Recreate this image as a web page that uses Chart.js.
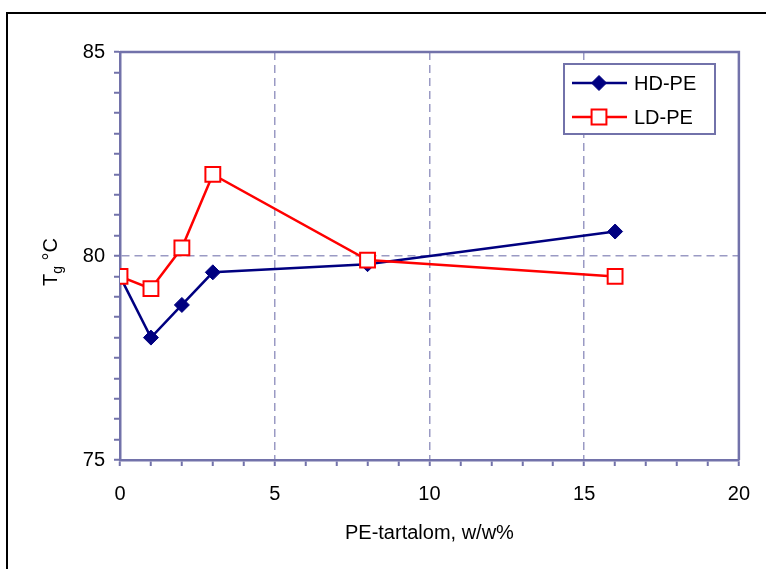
<!DOCTYPE html>
<html>
<head>
<meta charset="utf-8">
<script src="https://cdn.jsdelivr.net/npm/chart.js@4.4.0/dist/chart.umd.min.js"></script>
<style>
  html, body { margin: 0; padding: 0; background: #fff; }
  #wrap { width: 766px; height: 569px; }
</style>
</head>
<body>
<div id="wrap"><canvas id="tg-chart" width="766" height="569"></canvas></div>
<script>
// data
const peContent = [0, 1, 2, 3, 8, 16];
const hdpeTg = [79.5, 78.0, 78.8, 79.6, 79.8, 80.6];
const ldpeTg = [79.5, 79.2, 80.2, 82.0, 79.9, 79.5];
const xMajorTicks = [0, 5, 10, 15, 20];
const yMajorTicks = [75, 80, 85];
const xGridAt = [5, 10, 15];
const yGridAt = [80];

const AXIS = '#7272aa';
const GRID = '#9a9ac4';
const FONT = '"Liberation Sans", Arial, sans-serif';

// frame around the whole figure, plot box top/right edges, y title, legend
const decorations = {
  id: 'decorations',
  beforeDraw(chart) {
    const { ctx } = chart;
    ctx.save();
    ctx.strokeStyle = '#000';
    ctx.lineWidth = 2;
    ctx.strokeRect(7, 13, 800, 600);
    ctx.restore();
  },
  beforeDatasetsDraw(chart) {
    const { ctx, chartArea: a } = chart;
    ctx.save();
    ctx.strokeStyle = AXIS;
    ctx.lineWidth = 2.5;
    ctx.beginPath();
    ctx.moveTo(a.left, a.top);
    ctx.lineTo(a.right, a.top);
    ctx.lineTo(a.right, a.bottom);
    ctx.stroke();
    ctx.restore();
  },
  afterDraw(chart) {
    const { ctx } = chart;
    // y axis title: T with subscript g, then °C
    ctx.save();
    ctx.translate(50, 262);
    ctx.rotate(-Math.PI / 2);
    ctx.fillStyle = '#000';
    ctx.textBaseline = 'alphabetic';
    ctx.font = '20px ' + FONT;
    const wT = ctx.measureText('T').width;
    const wC = ctx.measureText(' °C').width;
    ctx.font = '14px ' + FONT;
    const wg = ctx.measureText('g').width;
    let x = -(wT + wg + wC) / 2;
    ctx.font = '20px ' + FONT;
    ctx.fillText('T', x, 7);
    x += wT;
    ctx.font = '14px ' + FONT;
    ctx.fillText('g', x, 12);
    x += wg;
    ctx.font = '20px ' + FONT;
    ctx.fillText(' °C', x, 7);
    ctx.restore();

    // legend box
    const box = { x: 564, y: 64, w: 151, h: 70 };
    ctx.save();
    ctx.fillStyle = '#fff';
    ctx.fillRect(box.x, box.y, box.w, box.h);
    ctx.strokeStyle = AXIS;
    ctx.lineWidth = 2;
    ctx.strokeRect(box.x, box.y, box.w, box.h);
    const rows = [83, 117];
    chart.data.datasets.forEach((ds, i) => {
      const y = rows[i];
      ctx.strokeStyle = ds.borderColor;
      ctx.lineWidth = 2.5;
      ctx.beginPath();
      ctx.moveTo(572, y);
      ctx.lineTo(627, y);
      ctx.stroke();
      ctx.fillStyle = ds.pointBackgroundColor;
      ctx.strokeStyle = ds.pointBorderColor;
      ctx.lineWidth = ds.pointBorderWidth;
      Chart.helpers.drawPoint(ctx, {
        pointStyle: ds.pointStyle,
        radius: ds.pointRadius,
        borderWidth: ds.pointBorderWidth,
        rotation: 0
      }, 599, y);
      ctx.fillStyle = '#000';
      ctx.font = '20px ' + FONT;
      ctx.textBaseline = 'middle';
      ctx.textAlign = 'left';
      ctx.fillText(ds.label, 634, y + 1);
    });
    ctx.restore();
  }
};

const gridOpts = gridAt => ({
  color: c => (c.tick && gridAt.includes(c.tick.value) ? GRID : 'rgba(0,0,0,0)'),
  lineWidth: 1.5,
  tickLength: 6,
  tickColor: AXIS,
  tickWidth: 2,
  tickBorderDash: []
});

new Chart(document.getElementById('tg-chart'), {
  type: 'line',
  data: {
    datasets: [
      {
        label: 'HD-PE',
        data: peContent.map((x, i) => ({ x, y: hdpeTg[i] })),
        borderColor: '#000080',
        borderWidth: 2.5,
        pointStyle: 'rectRot',
        pointRadius: 7.5,
        pointHoverRadius: 7.5,
        pointBackgroundColor: '#000080',
        pointBorderColor: '#000080',
        pointBorderWidth: 1,
        tension: 0,
        order: 1
      },
      {
        label: 'LD-PE',
        data: peContent.map((x, i) => ({ x, y: ldpeTg[i] })),
        borderColor: '#ff0000',
        borderWidth: 2.5,
        pointStyle: 'rect',
        pointRadius: 10.5,
        pointHoverRadius: 10.5,
        pointBackgroundColor: '#ffffff',
        pointBorderColor: '#ff0000',
        pointBorderWidth: 2,
        tension: 0,
        order: 0
      }
    ]
  },
  options: {
    responsive: false,
    animation: false,
    devicePixelRatio: 1,
    layout: { padding: { top: 52, right: 26, left: 0, bottom: 0 } },
    plugins: { legend: { display: false }, tooltip: { enabled: false } },
    scales: {
      x: {
        type: 'linear',
        min: 0, max: 20,
        afterFit: s => { s.height = 109; },
        ticks: {
          stepSize: 1,
          autoSkip: false,
          maxRotation: 0,
          padding: 16,
          color: '#000',
          font: { family: FONT, size: 20 },
          callback: v => (xMajorTicks.includes(v) ? v : '')
        },
        grid: gridOpts(xGridAt),
        border: { color: AXIS, width: 2.5, dash: [8, 5] },
        title: {
          display: true,
          text: 'PE-tartalom, w/w%',
          color: '#000',
          font: { family: FONT, size: 20 },
          padding: { top: 0, bottom: 24 }
        }
      },
      y: {
        min: 75, max: 85,
        afterFit: s => { s.width = 120; },
        ticks: {
          stepSize: 0.5,
          autoSkip: false,
          padding: 9,
          color: '#000',
          font: { family: FONT, size: 20 },
          callback: v => (yMajorTicks.includes(v) ? v : '')
        },
        grid: gridOpts(yGridAt),
        border: { color: AXIS, width: 2.5, dash: [8, 5] }
      }
    }
  },
  plugins: [decorations]
});
</script>
</body>
</html>
